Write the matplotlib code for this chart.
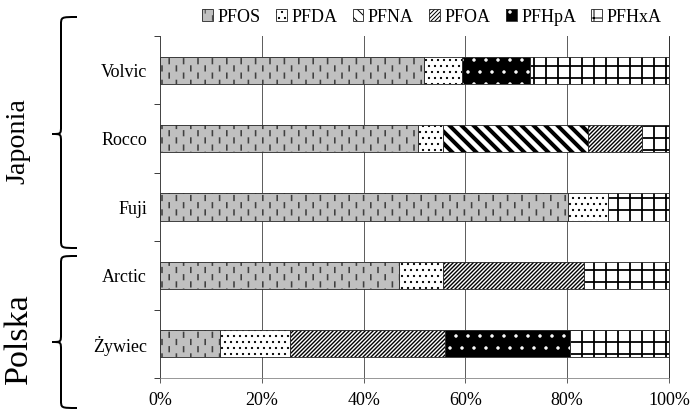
import warnings
import numpy as np
import matplotlib
matplotlib.use('Agg')
import matplotlib.pyplot as plt
import matplotlib.hatch as mhatch
from matplotlib.path import Path
from matplotlib.patches import Patch, PathPatch
from matplotlib.transforms import Affine2D
from matplotlib.ticker import PercentFormatter

warnings.filterwarnings('ignore', message='.*hatch must consist.*')

# share of each compound in the total PFAS sum, %
waters = ['Volvic', 'Rocco', 'Fuji', 'Arctic', 'Żywiec']
compounds = ['PFOS', 'PFDA', 'PFNA', 'PFOA', 'PFHpA', 'PFHxA']
pfos = [51.8, 50.6, 80.2, 46.9, 11.8]
pfda = [7.6, 5.0, 7.8, 8.7, 13.8]
pfna = [0.0, 28.4, 0.0, 0.0, 0.0]
pfoa = [0.0, 10.6, 0.0, 27.7, 30.3]
pfhpa = [13.2, 0.0, 0.0, 0.0, 24.7]
pfhxa = [27.4, 5.4, 12.0, 16.7, 19.4]
groups = ['Japonia', 'Polska']


class VerticalDashes(mhatch.HatchPatternBase):
    """short staggered vertical dashes, like the excel pattern"""
    def __init__(self, hatch, density):
        n = hatch.count('!')
        self.cols = 10 * n
        self.rows = 5 * n
        self.num_vertices = self.cols * self.rows * 2

    def set_vertices_and_codes(self, vertices, codes):
        k = 0
        for i in range(self.cols):
            x = (i + 0.5) / self.cols
            for j in range(self.rows):
                yc = (j + 0.25 + 0.5 * (i % 2)) / self.rows
                vertices[k] = (x, yc - 0.16 / self.rows)
                vertices[k + 1] = (x, yc + 0.16 / self.rows)
                codes[k] = Path.MOVETO
                codes[k + 1] = Path.LINETO
                k += 2


mhatch._hatch_types.append(VerticalDashes)

plt.rcParams['font.family'] = ['Liberation Serif', 'DejaVu Serif']

# face, hatch, hatch colour, hatch width
styles = [('#c0c0c0', '!', '#404040', 1.6),
          ('white', '..', 'black', 1.0),
          ('white', '\\\\', 'black', 4.0),
          ('white', '//////', 'black', 1.4),
          ('black', '.', 'white', 1.0),
          ('white', '+', 'black', 1.8)]
edge = '#303030'

W, H = 692, 411
fig = plt.figure(figsize=(W / 72, H / 72), dpi=72)
ax = fig.add_axes([160 / W, (H - 378) / H, 509 / W, 342 / H])

data = np.array([pfos, pfda, pfna, pfoa, pfhpa, pfhxa])
lefts = np.vstack([np.zeros(len(waters)), np.cumsum(data, axis=0)[:-1]])
y = np.arange(len(waters))

handles = []
for vals, left, (face, hatch, hcol, hlw) in zip(data, lefts, styles):
    bars = ax.barh(y, vals, left=left, height=0.4, color=face, edgecolor=hcol,
                   linewidth=0, hatch=hatch, zorder=2)
    for b in bars:
        if hasattr(b, 'set_hatch_linewidth'):
            b.set_hatch_linewidth(hlw)
    ax.barh(y, vals, left=left, height=0.4, fill=False, edgecolor=edge,
            linewidth=0.9, zorder=3)
    h = Patch(facecolor=face, edgecolor=hcol, linewidth=0, hatch=hatch)
    if hasattr(h, 'set_hatch_linewidth'):
        h.set_hatch_linewidth(min(hlw, 2.0))
    handles.append((h, Patch(fill=False, edgecolor=edge, linewidth=0.9)))

ax.set_xlim(0, 100)
ax.set_ylim(len(waters) - 0.5, -0.5)
ax.set_yticks(y, waters)
ax.set_yticks(np.arange(-0.5, len(waters)), minor=True)
ax.tick_params(axis='y', which='major', length=0, pad=13, labelsize=18)
ax.tick_params(axis='y', which='minor', length=6, width=1, color='#404040')
ax.set_xticks(np.arange(0, 101, 20))
ax.xaxis.set_major_formatter(PercentFormatter(xmax=100, decimals=0))
ax.tick_params(axis='x', length=5, width=1, pad=9, labelsize=18, color='#606060')
ax.grid(axis='x', color='#606060', linewidth=1)
ax.set_axisbelow(True)
ax.spines['top'].set_visible(False)
ax.spines['left'].set_color('#404040')
ax.spines['bottom'].set_color('#808080')
ax.spines['right'].set_color('black')

fig.legend(handles, compounds, loc='center', bbox_to_anchor=(432 / W, 1 - 17 / H),
           ncol=6, frameon=False, fontsize=18, handlelength=0.6, handleheight=0.6,
           handletextpad=0.25, columnspacing=0.85, borderpad=0, borderaxespad=0)

# braces for the country groups, figure pixels measured from top-left
px = Affine2D().scale(1 / W, -1 / H).translate(0, 1) + fig.transFigure


def brace(y_top, y_tip, y_bot, x_end=77, x_spine=61, x_tip=52, r=8):
    verts = [(x_end, y_top), (x_spine, y_top), (x_spine, y_top), (x_spine, y_top + r),
             (x_spine, y_tip - r),
             (x_spine, y_tip), (x_spine, y_tip), (x_tip, y_tip),
             (x_spine, y_tip), (x_spine, y_tip), (x_spine, y_tip + r),
             (x_spine, y_bot - r),
             (x_spine, y_bot), (x_spine, y_bot), (x_end, y_bot)]
    codes = [Path.MOVETO] + [Path.CURVE4] * 3 + [Path.LINETO] + [Path.CURVE4] * 6 \
        + [Path.LINETO] + [Path.CURVE4] * 3
    return PathPatch(Path(verts, codes), transform=px, fill=False, lw=2,
                     edgecolor='black')


brace_pos = [(17, 134, 248), (256, 342, 408)]
label_pos = [(18, 141, 28), (19, 339, 34)]
for name, bp, (lx, ly, fs) in zip(groups, brace_pos, label_pos):
    fig.patches.append(brace(*bp))
    fig.text(lx / W, 1 - ly / H, name, rotation=90, ha='center', va='center',
             fontsize=fs)

fig.savefig('out.png', dpi=72)
